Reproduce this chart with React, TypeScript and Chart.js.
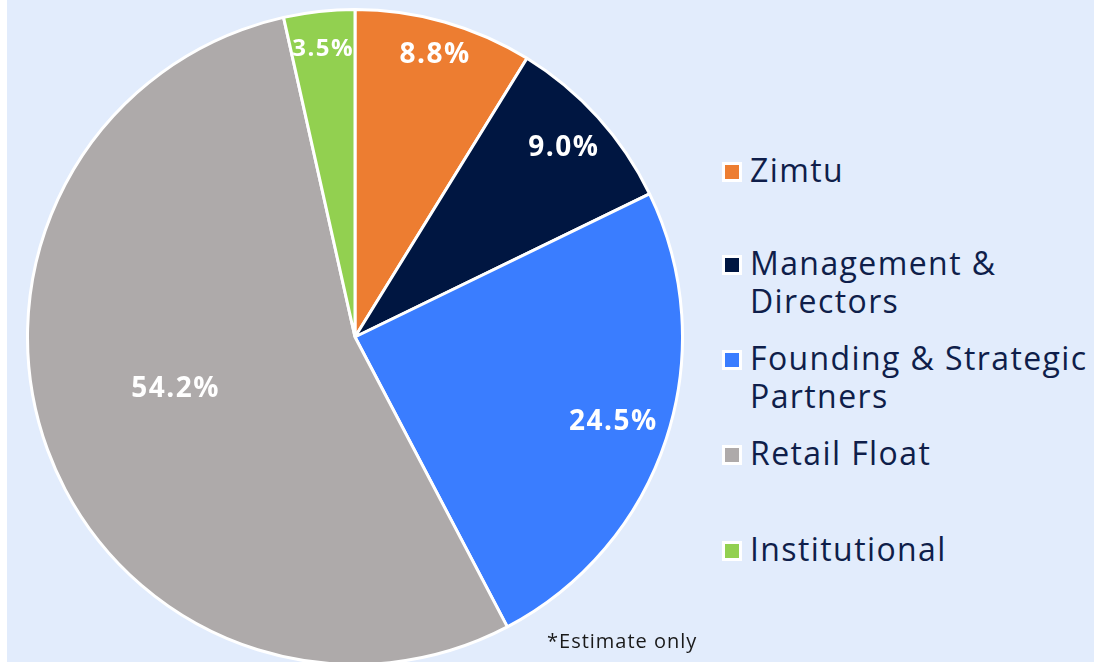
import React, { useEffect, useRef } from "react";
import { Chart, registerables } from "chart.js";

Chart.register(...registerables);

const categories = ["Zimtu", "Management & Directors", "Founding & Strategic Partners", "Retail Float", "Institutional"];
const legendLines = [["Zimtu"], ["Management &", "Directors"], ["Founding & Strategic", "Partners"], ["Retail Float"], ["Institutional"]];
const shares = [8.8, 9.0, 24.5, 54.2, 3.5];
const colors = ["#ED7D31", "#001641", "#3A7DFF", "#AEAAAA", "#92D050"];
const labelRadiusFrac = [0.895, 0.86, 0.83, 0.57, 0.885];
const labelAngleShiftDeg = [0, 0, 0, 4, 0];
const labelFontSize = [28, 28, 28, 28, 24];
const legendTops = [151, 244, 339, 434, 530];

const BG = "#E2ECFC";
const TEXT = "#0F1E4A";

const labelPlugin = {
  id: "sliceLabels",
  afterDatasetsDraw(chart: any) {
    const ctx = chart.ctx;
    const meta = chart.getDatasetMeta(0);
    ctx.save();
    ctx.fillStyle = "#FFFFFF";
    ctx.textAlign = "center";
    ctx.textBaseline = "middle";
    (ctx as any).letterSpacing = "1.5px";
    meta.data.forEach((arc: any, i: number) => {
      const p = arc.getProps(["x", "y", "startAngle", "endAngle", "outerRadius"], true);
      const mid = (p.startAngle + p.endAngle) / 2 + (labelAngleShiftDeg[i] * Math.PI) / 180;
      const r = p.outerRadius * labelRadiusFrac[i];
      ctx.font = `bold ${labelFontSize[i]}px "Open Sans", sans-serif`;
      ctx.fillText(shares[i].toFixed(1) + "%", p.x + Math.cos(mid) * r, p.y + Math.sin(mid) * r);
    });
    ctx.restore();
  },
};

export default function App() {
  const ref = useRef<HTMLCanvasElement>(null);
  useEffect(() => {
    if (!ref.current) return;
    const chart = new Chart(ref.current, {
      type: "pie",
      data: {
        labels: categories,
        datasets: [
          {
            data: shares,
            backgroundColor: colors,
            borderColor: "#FFFFFF",
            borderWidth: 3,
          },
        ],
      },
      options: {
        animation: false,
        responsive: false,
        maintainAspectRatio: false,
        layout: { padding: 0 },
        plugins: { legend: { display: false }, tooltip: { enabled: false } },
      },
      plugins: [labelPlugin],
    });
    return () => chart.destroy();
  }, []);

  return (
    <div style={{ position: "fixed", left: 0, top: 0, width: 1094, height: 662, overflow: "hidden", background: "#FFFFFF" }}>
      <div style={{ position: "absolute", left: 7, top: 0, width: 1087, height: 662, background: BG }} />
      <canvas ref={ref} width={658} height={658} style={{ position: "absolute", left: 26, top: 8, width: 658, height: 658 }} />
      {legendLines.map((lines, i) => (
        <div key={i} style={{ position: "absolute", left: 722, top: legendTops[i] }}>
          <div
            style={{
              position: "absolute",
              left: 0,
              top: 11,
              width: 14,
              height: 14,
              background: colors[i],
              border: "3px solid #FFFFFF",
            }}
          />
          <div
            style={{
              position: "absolute",
              left: 28,
              top: 0,
              whiteSpace: "nowrap",
              fontFamily: '"Open Sans", sans-serif',
              fontSize: 32,
              letterSpacing: "1.4px",
              lineHeight: "38px",
              color: TEXT,
            }}
          >
            {lines.map((l, j) => (
              <div key={j}>{l}</div>
            ))}
          </div>
        </div>
      ))}
      <div
        style={{
          position: "absolute",
          left: 547,
          top: 628,
          fontFamily: '"Open Sans", sans-serif',
          fontSize: 20,
          letterSpacing: "1px",
          lineHeight: "26px",
          color: "#1A1A1A",
          whiteSpace: "nowrap",
        }}
      >
        *Estimate only
      </div>
    </div>
  );
}
